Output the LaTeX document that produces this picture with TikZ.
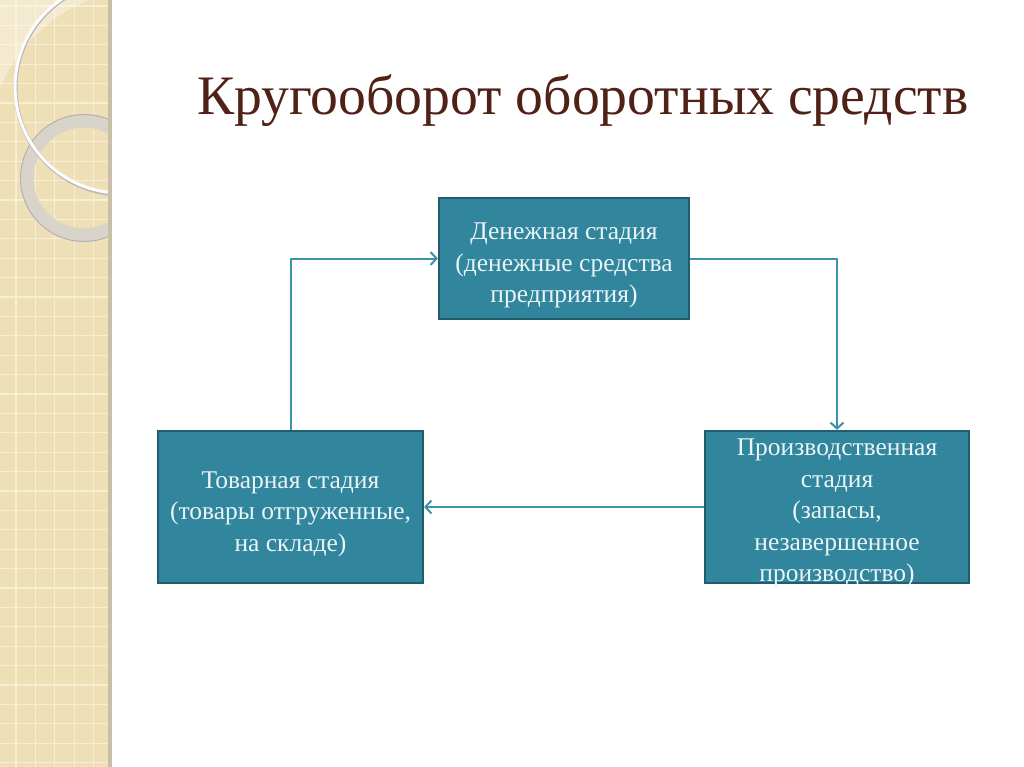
\documentclass[tikz,border=0pt]{standalone}
\usepackage{fontspec}
\setmainfont{Liberation Serif}
\usetikzlibrary{arrows.meta}
\definecolor{strip}{HTML}{EEDFB6}
\definecolor{gridc}{HTML}{F7EED3}
\definecolor{shadowc}{HTML}{C9BFA9}
\definecolor{ringc}{HTML}{D9D4CA}
\definecolor{titlec}{HTML}{4F2117}
\definecolor{boxfill}{HTML}{31859C}
\definecolor{boxdraw}{HTML}{215D6C}
\definecolor{linec}{HTML}{3A93A8}
\definecolor{textc}{HTML}{EAF5F7}
\tikzset{
  stagebox/.style={draw=boxdraw, line width=2.2pt, fill=boxfill, inner sep=0pt},
  stagetext/.style={text=textc, align=center, inner sep=0pt,
    font=\fontsize{25.5}{31.5}\selectfont},
  conn/.style={draw=linec, line width=2pt, -{Straight Barb[length=6pt,width=13pt,line width=2pt]}},
}
\begin{document}
\begin{tikzpicture}[x=1pt,y=-1pt]
\useasboundingbox (0,0) rectangle (1024,767);
\fill[white] (0,0) rectangle (1024,767);
% left decorative strip
\fill[strip] (0,0) rectangle (108,767);
\begin{scope}
\clip (0,0) rectangle (108,767);
\foreach \i in {0,...,40} {
  \draw[gridc, line width=1.3pt] (0,{\i*19.4+6}) -- (108,{\i*19.4+6});
}
\foreach \i in {0,...,5} {
  \draw[gridc, line width=1.3pt] ({\i*19.4+16},0) -- ({\i*19.4+16},767);
}
\fill[white, opacity=0.35] (0,88) .. controls (20,40) and (60,10) .. (90,0) -- (0,0) -- cycle;
\draw[ringc, line width=13pt] (84,178) circle (57);
\draw[gray!60, line width=1pt] (84,178) circle (63.5);
\draw[gray!55, line width=4pt] (122,88) circle (106.5);
\draw[white!95!strip, line width=3pt] (121,87) circle (106);
\end{scope}
\fill[shadowc] (108,0) rectangle (111.5,767);
% title
\node[anchor=base west, text=titlec, font=\fontsize{55.7}{64}\selectfont, inner sep=0pt] (title) at (197,115) {Кругооборот оборотных средств};
% boxes
\node[stagebox, minimum width=250pt, minimum height=121pt] (den) at (564,258.5) {};
\node[stagebox, minimum width=265pt, minimum height=152pt] (tov) at (290.5,507) {};
\node[stagebox, minimum width=264pt, minimum height=152pt] (pro) at (837,507) {};
\node[stagetext] (denT) at ([yshift=-7pt]den.center)
  {Денежная стадия\\(денежные средства\\предприятия)};
\node[stagetext] (tovT) at ([yshift=-7pt]tov.center)
  {Товарная стадия\\(товары отгруженные,\\на складе)};
\node[stagetext] (proT) at ([yshift=-6pt]pro.center)
  {Производственная\\стадия\\(запасы,\\незавершенное\\производство)};
% connectors
\draw[conn] (tov.north) |- (den.west);
\draw[conn] (den.east) -| (pro.north);
\draw[conn] (pro.west) -- (tov.east);
\end{tikzpicture}
\end{document}
